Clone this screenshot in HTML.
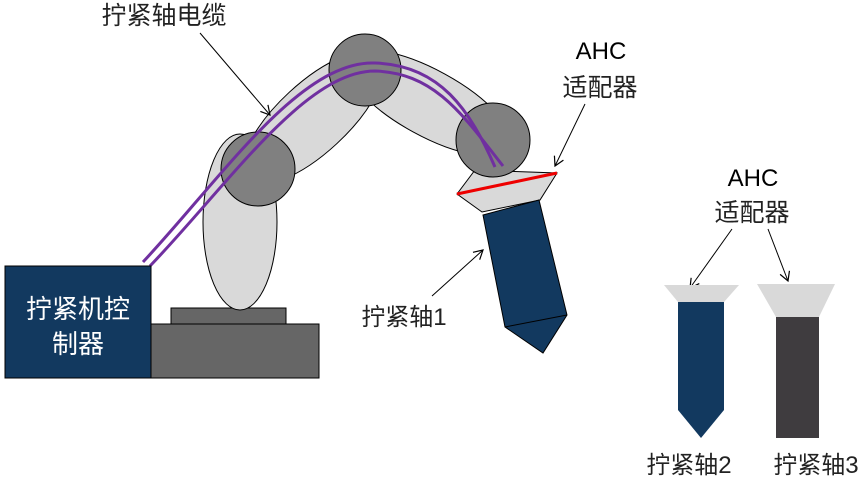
<!DOCTYPE html>
<html><head><meta charset="utf-8"><style>
html,body{margin:0;padding:0;background:#fff;}
svg{display:block;}
text{font-family:"Liberation Sans","Noto Sans CJK SC",sans-serif;}
</style></head><body>
<svg width="865" height="482" viewBox="0 0 865 482" xmlns="http://www.w3.org/2000/svg">
<defs>
<marker id="ah" markerWidth="12" markerHeight="12" refX="10" refY="6" orient="auto" markerUnits="userSpaceOnUse">
<path d="M1,1 L10,6 L1,11" fill="none" stroke="#000" stroke-width="1.2"/>
</marker>
</defs>
<!-- base -->
<rect x="151" y="324" width="168" height="54" fill="#666" stroke="#000" stroke-width="1"/>
<rect x="171" y="308" width="115" height="16" fill="#666" stroke="#000" stroke-width="1"/>
<!-- arms -->
<ellipse cx="240" cy="222" rx="37" ry="88" fill="#d9d9d9" stroke="#000" stroke-width="1"/>
<ellipse cx="313" cy="118" rx="90" ry="35" transform="rotate(-42.8 313 118)" fill="#d9d9d9" stroke="#000" stroke-width="1"/>
<ellipse cx="429" cy="103" rx="92" ry="33" transform="rotate(28.7 429 103)" fill="#d9d9d9" stroke="#000" stroke-width="1"/>
<!-- adapter 1 -->
<polygon points="475,170 557,173 540,200 482,212 457,194" fill="#d9d9d9" stroke="#000" stroke-width="1"/>
<!-- joints -->
<circle cx="258" cy="169" r="37" fill="#808080" stroke="#000" stroke-width="1"/>
<circle cx="365" cy="70" r="36" fill="#808080" stroke="#000" stroke-width="1"/>
<circle cx="493" cy="140" r="37" fill="#808080" stroke="#000" stroke-width="1"/>
<!-- cables -->
<path d="M143,262 C220,180 300,60 375,63 C440,65 470,110 495,167" fill="none" stroke="#7030a0" stroke-width="3"/>
<path d="M150,266 C227,186 305,71 375,71 C435,73 463,115 503,166" fill="none" stroke="#7030a0" stroke-width="3"/>
<line x1="457" y1="194" x2="557" y2="173" stroke="#e00" stroke-width="3"/>
<!-- shaft 1 -->
<polygon points="483,215 539,200 567,315 543,353 505,327" fill="#12395f" stroke="#000" stroke-width="1"/>
<line x1="505" y1="327" x2="567" y2="315" stroke="#000" stroke-width="1"/>
<!-- controller -->
<rect x="5" y="266" width="146" height="112" fill="#12395f" stroke="#000" stroke-width="1"/>
<text x="78" y="318" font-size="26" fill="#fff" text-anchor="middle">拧紧机控</text>
<text x="78" y="353" font-size="26" fill="#fff" text-anchor="middle">制器</text>
<!-- labels -->
<text x="164" y="24" font-size="25" fill="#222" text-anchor="middle">拧紧轴电缆</text>
<line x1="200" y1="33" x2="270" y2="115" stroke="#000" stroke-width="1" marker-end="url(#ah)"/>
<text x="601" y="59" font-size="24" fill="#000" text-anchor="middle">AHC</text>
<text x="600" y="96" font-size="25" fill="#222" text-anchor="middle">适配器</text>
<line x1="585" y1="104" x2="555" y2="166" stroke="#000" stroke-width="1" marker-end="url(#ah)"/>
<text x="404" y="325" font-size="24" fill="#222" text-anchor="middle">拧紧轴1</text>
<line x1="432" y1="296" x2="483" y2="250" stroke="#000" stroke-width="1" marker-end="url(#ah)"/>
<text x="753" y="186" font-size="24" fill="#000" text-anchor="middle">AHC</text>
<text x="752" y="221" font-size="25" fill="#222" text-anchor="middle">适配器</text>
<line x1="732" y1="229" x2="690" y2="288" stroke="#000" stroke-width="1" marker-end="url(#ah)"/>
<line x1="768" y1="229" x2="788" y2="281" stroke="#000" stroke-width="1" marker-end="url(#ah)"/>
<!-- tools 2 and 3 -->
<polygon points="664,285 739,285 724,302 678,302" fill="#d9d9d9"/>
<polygon points="678,302 724,302 724,410 701,438 678,410" fill="#12395f"/>
<polygon points="757,284 835,284 819,317 776,317" fill="#d9d9d9"/>
<rect x="776" y="317" width="43" height="121" fill="#3f3c3f"/>
<text x="689" y="473" font-size="24" fill="#222" text-anchor="middle">拧紧轴2</text>
<text x="816" y="473" font-size="24" fill="#222" text-anchor="middle">拧紧轴3</text>
</svg>
</body></html>
